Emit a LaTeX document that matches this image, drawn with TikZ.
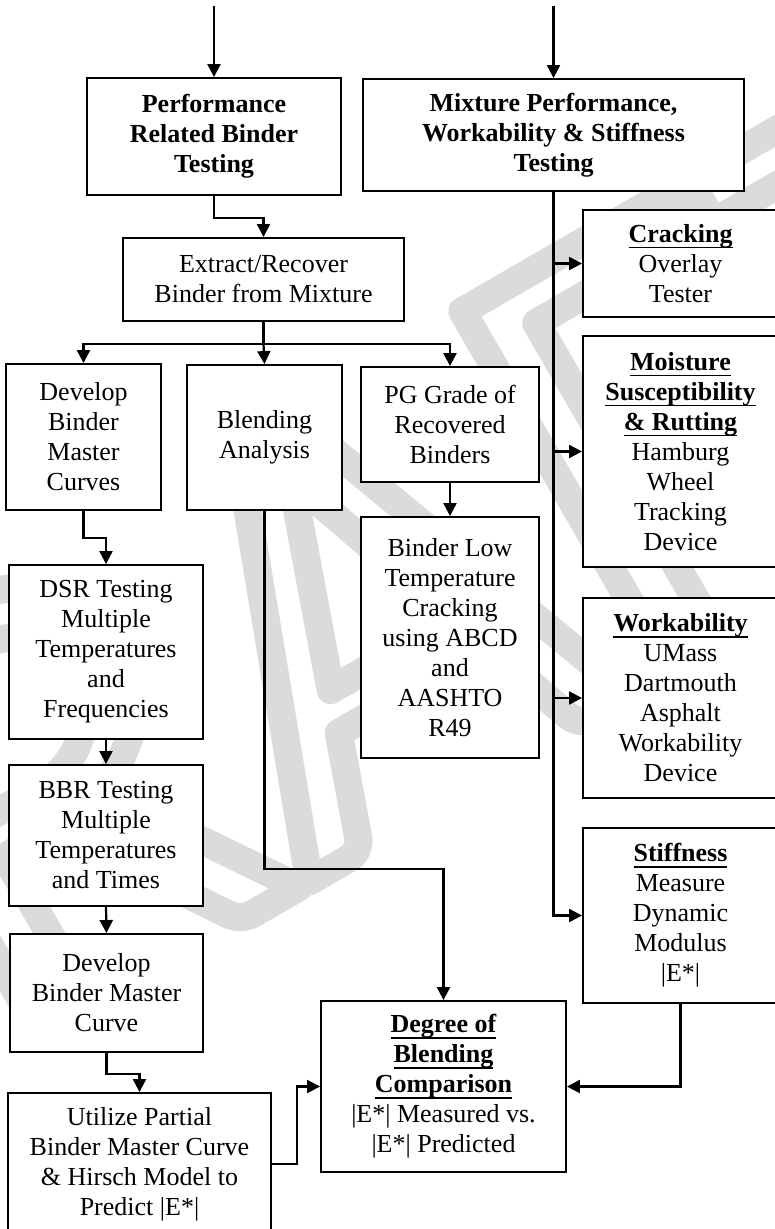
\documentclass[tikz,border=0pt]{standalone}
\usepackage{fontspec}
\setmainfont{Liberation Serif}
\newfontfamily\wmfont{Carlito}
\usetikzlibrary{arrows.meta}
\newsavebox\ulbox
\newcommand\ulw[1]{\sbox\ulbox{#1}\rlap{\rule[-6pt]{\wd\ulbox}{1.8pt}}\usebox\ulbox}
% outlined watermark letters
\newcommand\outlinetext[1]{\special{pdf:literal direct 1 Tr 28 w 1 j}#1\special{pdf:literal direct 0 Tr}}
\tikzset{
  box/.style={draw, fill=white, line width=1.9pt, align=center, inner sep=0pt},
  conn/.style={line width=2.2pt},
  arr/.style={conn, -{Triangle[length=13pt,width=13pt]}},
  wmark/.style={text=black!14, font=\wmfont\fontsize{650}{650}\selectfont,
                rotate=30, inner sep=0pt, anchor=base west},
}

\begin{document}
\begin{tikzpicture}[x=1pt, y=-1pt, font=\fontsize{26}{30}\selectfont]
\useasboundingbox (0,0) rectangle (775,1229);

% watermark behind everything
\node[wmark] (wm) at (-345,1259) {\outlinetext{DRAFT}};

% top row
\node[box, minimum width=254, minimum height=117] (perf) at (214,136.5)
  {\textbf{Performance}\\\textbf{Related Binder}\\\textbf{Testing}};
\node[box, minimum width=381, minimum height=112] (mix) at (553.5,135)
  {\textbf{Mixture Performance,}\\\textbf{Workability \& Stiffness}\\\textbf{Testing}};
\coordinate (inL) at (214,6);
\coordinate (inR) at (553.5,6);

% binder branch
\node[box, minimum width=281, minimum height=83] (extract) at (263.5,279.5)
  {Extract/Recover\\Binder from Mixture};
\node[box, minimum width=155, minimum height=146] (devcurves) at (83.5,437)
  {Develop\\Binder\\Master\\Curves};
\node[box, minimum width=155, minimum height=145] (blend) at (264.5,437.5)
  {Blending\\Analysis};
\node[box, minimum width=178, minimum height=115] (pg) at (450,424.5)
  {PG Grade of\\Recovered\\Binders};
\node[box, minimum width=178, minimum height=241] (lowtemp) at (450,637.5)
  {Binder Low\\Temperature\\Cracking\\using ABCD\\and\\AASHTO\\R49};
\node[box, minimum width=194, minimum height=174] (dsr) at (106,652)
  {DSR Testing\\Multiple\\Temperatures\\and\\Frequencies};
\node[box, minimum width=194, minimum height=141] (bbr) at (106,835.5)
  {BBR Testing\\Multiple\\Temperatures\\and Times};
\node[box, minimum width=193, minimum height=118] (devcurve) at (106.5,993)
  {Develop\\Binder Master\\Curve};
\node[box, minimum width=263, minimum height=142] (utilize) at (139.5,1164)
  {Utilize Partial\\Binder Master Curve\\\& Hirsch Model to\\Predict |E*|};

% mixture branch
\node[box, minimum width=195, minimum height=107] (crack) at (680.5,263.5)
  {\ulw{\textbf{Cracking}}\\Overlay\\Tester};
\node[box, minimum width=195, minimum height=231] (moist) at (680.5,451.5)
  {\ulw{\textbf{Moisture}}\\\ulw{\textbf{Susceptibility}}\\\ulw{\textbf{\& Rutting}}\\Hamburg\\Wheel\\Tracking\\Device};
\node[box, minimum width=195, minimum height=200] (work) at (680.5,698)
  {\ulw{\textbf{Workability}}\\UMass\\Dartmouth\\Asphalt\\Workability\\Device};
\node[box, minimum width=195, minimum height=175] (stiff) at (680.5,915.5)
  {\ulw{\textbf{Stiffness}}\\Measure\\Dynamic\\Modulus\\|E*|};

% comparison
\node[box, minimum width=245, minimum height=171] (degree) at (443.5,1086.5)
  {\ulw{\textbf{Degree of}}\\\ulw{\textbf{Blending}}\\\ulw{\textbf{Comparison}}\\|E*| Measured vs.\\|E*| Predicted};

% connectors
\draw[arr] (inL) -- (perf.north);
\draw[arr] (inR) -- (mix.north);
\draw[arr] (perf.south) -- ++(0,22) -| (extract.north);
\draw[conn] (extract.south) -- ++(0,22) coordinate (split);
\draw[arr] (split) -| (devcurves.north);
\draw[arr] (split) -- (blend.north);
\draw[arr] (split) -| (pg.north);
\draw[arr] (pg.south) -- (lowtemp.north);
\draw[arr] (devcurves.south) -- ++(0,27) -| (dsr.north);
\draw[arr] (dsr.south) -- (bbr.north);
\draw[arr] (bbr.south) -- (devcurve.north);
\draw[arr] (devcurve.south) -- ++(0,21) -| (utilize.north);
\draw[arr] (utilize.east) -- ++(25,0) |- (degree.west);
\draw[arr] (blend.south) -- ++(0,358) -| (degree.north);
\draw[arr] (mix.south) |- (crack.west);
\draw[arr] (mix.south) |- (moist.west);
\draw[arr] (mix.south) |- (work.west);
\draw[arr] (mix.south) |- (stiff.west);
\draw[arr] (stiff.south) |- (degree.east);

\end{tikzpicture}
\end{document}
